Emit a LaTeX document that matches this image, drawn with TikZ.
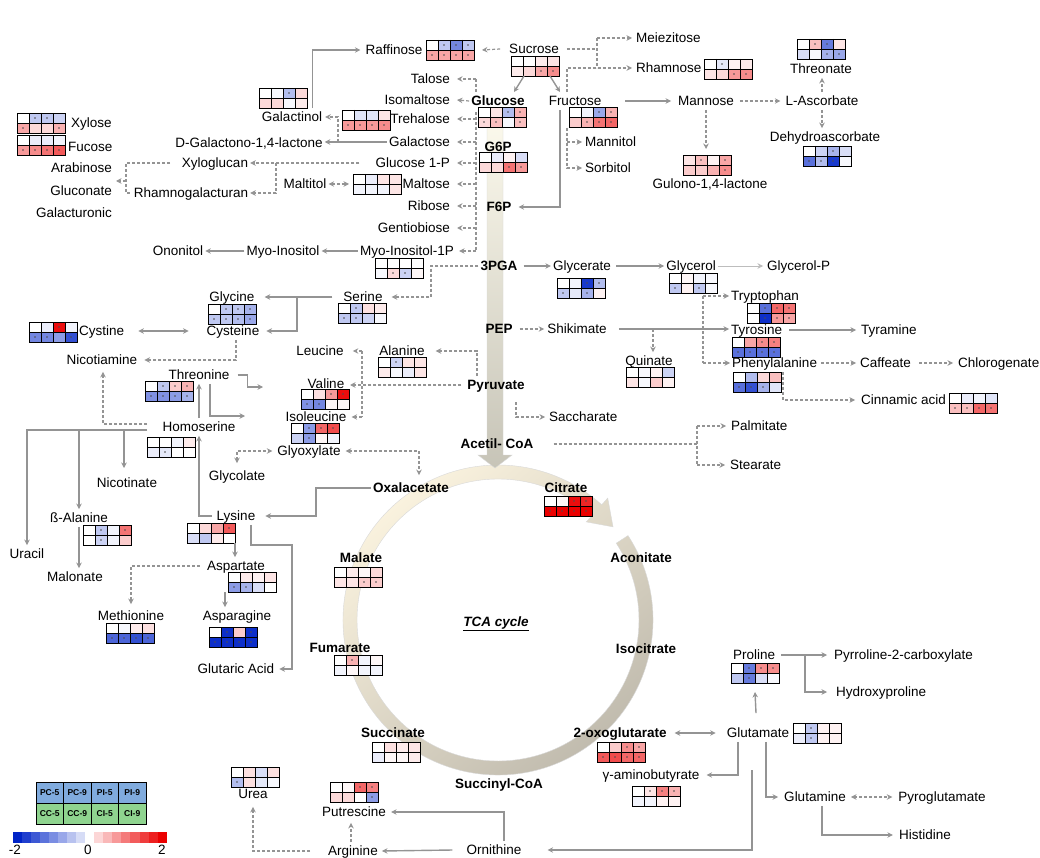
\documentclass[tikz,border=0pt]{standalone}
\usepackage{fontspec}
\setmainfont{Liberation Sans}
\usetikzlibrary{arrows.meta,calc}

\newlength{\du}
\setlength{\du}{1pt}

\definecolor{dialinecolor}{rgb}{0.58,0.58,0.58}
\definecolor{thinlinecolor}{rgb}{0.74,0.74,0.74}
\definecolor{hmblue}{rgb}{0.0,0.14,0.78}
\definecolor{hmred}{rgb}{0.92,0.0,0.0}
\definecolor{legtop}{rgb}{0.50,0.67,0.87}
\definecolor{legbot}{rgb}{0.56,0.83,0.56}
\definecolor{tcalight}{rgb}{0.99,0.96,0.88}
\definecolor{tcadark}{rgb}{0.74,0.72,0.67}
\definecolor{bandtop}{rgb}{0.99,0.98,0.93}
\definecolor{bandbot}{rgb}{0.78,0.77,0.72}
\newcommand{\lblfont}{\fontsize{13.5}{15}\selectfont}

\tikzset{
  lbl/.style={font=\lblfont, inner sep=2pt, text height=11pt, text depth=2.5pt},
  blbl/.style={lbl, font=\lblfont\bfseries},
  ln/.style={draw=dialinecolor, line width=1.4pt},
  arr/.style={ln, ->},
  dsh/.style={ln, line width=1.2pt, dash pattern=on 3pt off 2pt},
  darr/.style={dsh, ->},
  thinarr/.style={draw=thinlinecolor, line width=0.9pt, ->},
  hmbox/.style={anchor=north west, minimum width=48pt, minimum height=20pt, inner sep=0pt, outer sep=0pt},
  hmgrid/.style={draw=black, line width=0.8pt},
  stardot/.style={fill=black!70},
  legcell/.style={draw=black, line width=0.6pt, minimum width=27.5pt, minimum height=21pt, inner sep=0pt,
    font=\fontsize{8.5}{10}\selectfont\bfseries}
}

% heat map: name, top left corner, 8 cells value/star
\newcommand{\hmap}[3]{%
  \node[hmbox] (#1) at (#2) {};
  \foreach \hv/\hs [count=\hi from 0] in {#3}{%
    \pgfmathtruncatemacro\hmc{mod(\hi,4)}%
    \pgfmathtruncatemacro\hmr{div(\hi,4)}%
    \pgfmathtruncatemacro\hmp{abs(\hv)}%
    \ifnum\hv<0 \def\hmh{hmblue}\else\def\hmh{hmred}\fi
    \fill[\hmh!\hmp!white] ($(#1.north west)+(12*\hmc,10*\hmr)$) rectangle ++(12,10);
    \ifnum\hs=1 \fill[stardot] ($(#1.north west)+(12*\hmc+6,10*\hmr+5)$) circle[radius=0.9pt];\fi
  }
  \draw[hmgrid] (#1.north west) rectangle (#1.south east)
    ($(#1.north west)+(0,10)$) -- ($(#1.north east)+(0,10)$)
    \foreach \hx in {12,24,36}{($(#1.north west)+(\hx,0)$) -- ($(#1.south west)+(\hx,0)$)};
}

\begin{document}
\begin{tikzpicture}[x=1\du,y=-1\du,>={Stealth[length=5.5pt,width=5.5pt]}]
\fill[white] (0,0) rectangle (1040,858);
\useasboundingbox (0,0) rectangle (1040,858);

% TCA ring
\begin{scope}[shift={(498,620)},y=1\du]
\shadedraw[top color=tcalight,bottom color=tcadark,shading angle=40,draw=black!15,line width=0.4pt]
  (33:155) arc[start angle=33,end angle=-312,radius=155]
  -- (48:164) -- (39:148) -- (48:132) -- (48:141)
  arc[start angle=-312,end angle=33,radius=141] -- cycle;
\end{scope}

% glycolysis
\shadedraw[top color=bandtop,bottom color=bandbot,draw=black!15,line width=0.4pt]
  (487,112) -- (503,112) -- (503,455) -- (512,455) -- (495,468) -- (478,455) -- (487,455) -- cycle;

% heat maps
\hmap{hm-raf}{426,40}{0/0,-25/1,-55/1,-25/1,35/1,35/1,35/1,35/1}
\hmap{hm-suc}{511,56}{0/0,0/0,8/0,10/0,8/0,15/0,35/1,45/1}
\hmap{hm-gol}{259,88}{0/0,-3/0,-30/1,15/0,15/0,15/0,-3/0,8/0}
\hmap{hm-tre}{342,110}{0/0,-12/0,-12/0,10/0,40/1,40/1,40/1,45/1}
\hmap{hm-glc}{478,107}{0/0,10/0,-30/1,30/1,15/1,25/1,-3/0,25/1}
\hmap{hm-fru}{569,107}{0/0,-5/0,-40/1,30/1,20/0,30/1,55/1,60/1}
\hmap{hm-xyl}{17,113}{0/0,-25/1,-25/1,-20/0,35/1,15/0,15/0,30/1}
\hmap{hm-fuc}{17,135}{0/0,-8/0,-8/0,-5/0,40/1,45/1,55/1,65/1}
\hmap{hm-g6p}{479,152}{0/0,-8/0,5/0,-15/0,15/0,15/0,55/1,40/1}
\hmap{hm-mal}{353,174}{0/0,-8/0,10/0,10/0,-5/0,-5/0,-5/0,10/0}
\hmap{hm-mip}{375,258}{0/0,0/0,0/0,0/0,-3/0,15/1,-20/1,3/0}
\hmap{hm-rha}{704,59}{0/0,-10/1,5/0,8/0,10/0,15/0,40/1,45/1}
\hmap{hm-thn}{797,39}{0/0,25/1,-60/1,10/0,-15/0,-3/0,-35/1,-40/1}
\hmap{hm-gul}{683,155}{10/0,25/1,5/0,35/1,20/0,20/0,30/0,45/1}
\hmap{hm-dha}{803,146}{0/0,-20/0,-35/1,-15/0,-65/1,-30/1,-90/1,-3/0}
\hmap{hm-gla}{557,278}{0/0,-5/0,-90/1,-30/1,-25/1,-10/0,-35/1,5/0}
\hmap{hm-gly}{669,273}{0/0,3/0,-5/0,-3/0,-25/1,5/0,-25/1,-3/0}
\hmap{hm-ser}{338,303}{0/0,-25/1,12/0,8/0,-25/1,-25/1,-20/0,-3/0}
\hmap{hm-gcn}{208,304}{0/0,-25/1,-25/1,-35/1,-25/1,-25/1,-30/1,-40/1}
\hmap{hm-cyt}{29,322}{0/0,-8/0,95/1,-5/0,-55/1,-55/1,-45/0,-80/1}
\hmap{hm-ala}{378,357}{0/0,-20/1,10/0,10/0,8/0,-3/0,-8/0,10/0}
\hmap{hm-thr}{145,381}{0/0,-25/1,20/1,30/1,-50/1,-50/1,-45/1,-35/1}
\hmap{hm-val}{301,389}{0/0,12/0,40/1,95/1,-50/1,-55/1,3/0,3/0}
\hmap{hm-ile}{291,423}{0/0,-45/1,60/1,70/1,-20/0,-45/1,3/0,-5/0}
\hmap{hm-hse}{147,437}{0/0,0/0,-5/0,8/0,-8/0,-10/1,0/0,0/0}
\hmap{hm-trp}{747,303}{0/0,-65/1,60/1,55/1,0/0,-95/1,40/1,35/1}
\hmap{hm-tyr}{732,337}{0/0,35/0,45/1,50/1,-65/1,-65/1,-65/1,-65/1}
\hmap{hm-phe}{733,372}{0/0,-30/0,15/0,25/0,-65/1,-80/1,-35/1,-12/0}
\hmap{hm-qui}{626,367}{0/0,-3/0,5/0,-20/0,10/0,-3/0,20/0,5/0}
\hmap{hm-cin}{949,393}{0/0,-8/0,-5/0,-12/0,25/1,25/1,60/1,55/1}
\hmap{hm-bal}{83,525}{0/0,-25/1,-5/0,55/1,0/0,-20/1,-5/0,20/0}
\hmap{hm-lys}{187,523}{0/0,15/0,35/0,65/1,-15/0,-25/0,8/0,0/0}
\hmap{hm-cit}{544,496}{0/0,3/0,95/1,85/1,100/1,100/1,100/1,100/1}
\hmap{hm-asp}{228,572}{0/0,8/0,5/0,10/0,-45/1,-35/1,-15/0,0/0}
\hmap{hm-mlt}{334,567}{0/0,8/0,3/0,15/0,10/0,10/0,20/1,20/1}
\hmap{hm-met}{106,623}{0/0,-3/0,8/0,12/0,-70/1,-70/1,-80/1,-70/1}
\hmap{hm-asn}{209,627}{0/0,-95/1,20/0,-95/1,-95/1,-95/1,-95/1,-95/1}
\hmap{hm-fum}{334,655}{0/0,30/1,-5/0,3/0,-5/0,3/0,-5/0,-5/0}
\hmap{hm-pro}{731,663}{0/0,-60/1,45/1,45/1,-25/0,-60/1,-15/0,-3/0}
\hmap{hm-glu}{793,723}{0/0,-25/1,5/0,5/0,-8/0,-25/1,5/0,5/0}
\hmap{hm-scn}{372,742}{0/0,12/0,8/0,10/0,-8/0,3/0,3/0,8/0}
\hmap{hm-okg}{597,742}{0/0,20/0,45/1,35/1,65/1,70/1,60/1,60/1}
\hmap{hm-gab}{632,786}{0/0,10/1,50/1,30/1,-5/0,-5/0,5/0,5/0}
\hmap{hm-put}{330,782}{0/0,3/0,60/1,50/1,15/0,15/0,0/0,-45/1}
\hmap{hm-urea}{231,767}{0/0,12/0,-15/0,12/0,-30/1,12/0,-10/0,-3/0}

% sugars
\node[lbl] (raf) at (394,50) {Raffinose};
\node[lbl] (suc) at (534,49) {Sucrose};
\node[lbl,anchor=west] (mei) at (634,38) {Meiezitose};
\node[lbl,anchor=west] (rha) at (634,68) {Rhamnose};
\node[lbl,anchor=east] (tal) at (452,79) {Talose};
\node[lbl,anchor=east] (iso) at (452,100) {Isomaltose};
\node[blbl] (glc) at (498,101) {Glucose};
\node[lbl] (fru) at (575,101) {Fructose};
\node[lbl,anchor=east] (tre) at (452,119) {Trehalose};
\node[lbl,anchor=east] (gal) at (452,142) {Galactose};
\node[blbl] (g6p) at (498,147) {G6P};
\node[lbl,anchor=east] (g1p) at (452,163) {Glucose 1-P};
\node[lbl,anchor=east] (mal) at (452,184) {Maltose};
\node[lbl,anchor=east] (rib) at (452,206) {Ribose};
\node[blbl] (f6p) at (499,207) {F6P};
\node[lbl,anchor=east] (gen) at (452,228) {Gentiobiose};
\node[lbl] (mip) at (407,251) {Myo-Inositol-1P};
\node[lbl,anchor=west] (mtl) at (583,142) {Mannitol};
\node[lbl,anchor=west] (sor) at (583,168) {Sorbitol};
\node[lbl] (man) at (706,101) {Mannose};
\node[lbl] (gul) at (710,184) {Gulono-1,4-lactone};
\node[lbl] (asc) at (822,101) {L-Ascorbate};
\node[lbl] (thn) at (821,69) {Threonate};
\node[lbl] (dha) at (825,137) {Dehydroascorbate};
\node[lbl] (gol) at (292,117) {Galactinol};
\node[lbl] (dgl) at (249,143) {D-Galactono-1,4-lactone};
\node[lbl,anchor=west] (xyl) at (69,123) {Xylose};
\node[lbl,anchor=west] (fuc) at (66,147) {Fucose};
\node[lbl,anchor=east] (ara) at (114,168) {Arabinose};
\node[lbl,anchor=east] (gna) at (114,191) {Gluconate};
\node[lbl,anchor=east] (gcu) at (114,213) {Galacturonic};
\node[lbl] (xgl) at (215,163) {Xyloglucan};
\node[lbl] (rga) at (191,193) {Rhamnogalacturan};
\node[lbl] (mtt) at (305,184) {Maltitol};
\node[lbl] (ono) at (178,251) {Ononitol};
\node[lbl] (myo) at (283,251) {Myo-Inositol};

% glycolysis, amino acids
\node[blbl] (pga) at (499,266) {3PGA};
\node[lbl] (gla) at (582,266) {Glycerate};
\node[lbl] (gly) at (691,266) {Glycerol};
\node[lbl,anchor=west] (glp) at (765,266) {Glycerol-P};
\node[lbl] (ser) at (363,297) {Serine};
\node[lbl] (gcn) at (232,297) {Glycine};
\node[lbl] (cys) at (233,331) {Cysteine};
\node[lbl,anchor=west] (cyt) at (77,331) {Cystine};
\node[lbl] (nic) at (102,360) {Nicotiamine};
\node[blbl] (pep) at (499,329) {PEP};
\node[lbl] (shk) at (577,329) {Shikimate};
\node[lbl,anchor=west] (trp) at (729,296) {Tryptophan};
\node[lbl,anchor=west] (tyr) at (729,330) {Tyrosine};
\node[lbl,anchor=west] (tym) at (859,330) {Tyramine};
\node[lbl,anchor=west] (phe) at (730,363) {Phenylalanine};
\node[lbl,anchor=west] (caf) at (858,363) {Caffeate};
\node[lbl,anchor=west] (chl) at (956,363) {Chlorogenate};
\node[lbl] (qui) at (649,361) {Quinate};
\node[lbl,anchor=west] (cin) at (859,400) {Cinnamic acid};
\node[lbl] (leu) at (320,351) {Leucine};
\node[lbl] (ala) at (402,351) {Alanine};
\node[blbl] (pyr) at (496,385) {Pyruvate};
\node[lbl] (val) at (326,384) {Valine};
\node[lbl] (ile) at (316,417) {Isoleucine};
\node[lbl,anchor=west] (sac) at (547,417) {Saccharate};
\node[lbl] (thr) at (199,375) {Threonine};
\node[lbl] (hse) at (199,427) {Homoserine};
\node[blbl] (acc) at (497,444) {Acetil- CoA};
\node[lbl,anchor=west] (pal) at (729,426) {Palmitate};
\node[lbl,anchor=west] (ste) at (728,465) {Stearate};
\node[lbl] (gox) at (309,451) {Glyoxylate};
\node[lbl] (gco) at (237,476) {Glycolate};
\node[lbl] (nca) at (127,483) {Nicotinate};
\node[lbl] (lys) at (236,516) {Lysine};
\node[lbl] (bal) at (79,518) {ß-Alanine};
\node[lbl] (ura) at (27,554) {Uracil};
\node[lbl] (mlo) at (75,577) {Malonate};
\node[lbl] (asp) at (236,566) {Aspartate};
\node[lbl] (met) at (131,616) {Methionine};
\node[lbl] (asn) at (237,616) {Asparagine};
\node[lbl] (gta) at (236,669) {Glutaric Acid};

% TCA cycle
\node[blbl] (oaa) at (411,488) {Oxalacetate};
\node[blbl] (cit) at (566,488) {Citrate};
\node[blbl] (acn) at (641,558) {Aconitate};
\node[blbl] (mlt) at (361,558) {Malate};
\node[blbl] (fum) at (340,648) {Fumarate};
\node[blbl] (ici) at (646,649) {Isocitrate};
\node[blbl] (scn) at (393,733) {Succinate};
\node[blbl] (okg) at (620,733) {2-oxoglutarate};
\node[blbl] (sca) at (499,784) {Succinyl-CoA};
\node[lbl,font=\lblfont\bfseries\itshape] (tca) at (496,622) {\underline{TCA cycle}};

% glutamate family
\node[lbl] (pro) at (754,655) {Proline};
\node[lbl,anchor=west] (p2c) at (832,655) {Pyrroline-2-carboxylate};
\node[lbl,anchor=west] (hyp) at (834,692) {Hydroxyproline};
\node[lbl] (glu) at (758,733) {Glutamate};
\node[lbl] (gab) at (651,775) {γ-aminobutyrate};
\node[lbl] (gln) at (815,797) {Glutamine};
\node[lbl] (pgl) at (942,797) {Pyroglutamate};
\node[lbl] (his) at (925,835) {Histidine};
\node[lbl] (urea) at (253,794) {Urea};
\node[lbl] (put) at (354,812) {Putrescine};
\node[lbl] (arg) at (353,851) {Arginine};
\node[lbl] (orn) at (494,850) {Ornithine};

% connectors: sugars
\coordinate (trk) at (476,79);
\draw[arr] ([xshift=-12pt]gol.north east) |- ([xshift=-3pt]raf.west);
\draw[darr] ([xshift=-7pt]suc.west) -- ([xshift=8pt]hm-raf.east);
\draw[arr] ([xshift=-11pt]hm-suc.south) -- ([xshift=16pt]glc.north);
\draw[arr] ([xshift=15pt]hm-suc.south) -- ([xshift=-15pt]fru.north);
\draw[dsh] ([xshift=6pt]suc.east) -- ++(30,0) coordinate (sj);
\draw[dsh] (sj |- mei.west) -- (sj |- rha.west);
\draw[darr] (sj |- mei.west) -- ([xshift=-2pt]mei.west);
\draw[darr] ([xshift=-8pt]fru.north) |- ([xshift=-2pt]rha.west);
\draw[dsh] (trk) -- (476,93);
\draw[dsh] (476,112) -- (trk |- mip.east);
\foreach \n in {tal,tre,gal,g1p,mal,rib,gen}{\draw[darr] (trk |- \n.east) -- ([xshift=5pt]\n.east);}
\draw[darr] (trk |- mip.east) -- ([xshift=3pt]mip.east);
\draw[darr] (glc.west) -- ([xshift=5pt]iso.east);
\draw[arr] (gal.west) -- (dgl.east |- gal.west);
\draw[darr] (338,142) |- ([xshift=1pt]gol.east);
\draw[darr] ([xshift=-14pt]g1p.west) -- (xgl.east |- g1p.west);
\draw[darr] (276,163) |- (rga.east);
\draw[dsh] (170,163) -| (126,193) -- (rga.west);
\draw[darr] (126,181) -- (116,181);
\draw[dsh,<->] (mtt.east) -- ([xshift=-4pt]hm-mal.west);
\draw[arr] (mip.west) -- (myo.east);
\draw[arr] (myo.west) -- (ono.east);
\draw[arr] ([xshift=-15pt]fru.south) |- ([xshift=5pt]f6p.east);
\draw[darr] (567,128) |- ([xshift=-1pt]sor.west);
\draw[darr] (567,142) -- ([xshift=-1pt]mtl.west);
\draw[arr] ([xshift=22pt]fru.east) -- ([xshift=-5pt]man.west);
\draw[darr,shorten >=6pt] (man.south) -- (man.south |- hm-gul.north);
\draw[darr] ([xshift=4pt]man.east) -- ([xshift=-3pt]asc.west);
\draw[darr] (asc.north) -- (asc.north |- thn.south);
\draw[darr] (asc.south) -- (asc.south |- dha.north);

% connectors: 3PGA, PEP, pyruvate
\draw[arr] ([xshift=4pt]pga.east) -- (gla.west);
\draw[arr] ([xshift=3pt]gla.east) -- (gly.west);
\draw[thinarr] (gly.east) -- ([xshift=-2pt]glp.west);
\draw[darr] (pga.west) -| (431,297) -- ([xshift=7pt]ser.east);
\draw[arr] ([xshift=-9pt]ser.west) -- ([xshift=8pt]gcn.east);
\draw[arr] (297,297) |- ([xshift=5pt]cys.east);
\draw[ln,<->] ([xshift=12pt]cyt.east) -- ([xshift=-16pt]cys.west);
\draw[darr] ([xshift=3pt]cys.south) |- ([xshift=5pt]nic.east);
\draw[darr] (147,424) -| ([xshift=1pt,yshift=-3pt]nic.south);
\draw[arr] ([xshift=6pt]thr.east) -- ++(10,0) |- (263,387);
\draw[arr] ([xshift=11pt]thr.south) |- (245,416);
\draw[arr] (hse.north) -- (thr.south);
\draw[arr] ([xshift=-3pt]lys.west) -| (hse.south);
\draw[arr] (147,430) -| (ura.north);
\draw[arr] (79,430) -- (bal.north);
\draw[arr] (124,430) -- (124,468);
\draw[arr] (bal.south) -- (mlo.north -| bal.south);
\draw[dsh,<->] ([yshift=4pt]gco.north) |- ([xshift=-3pt]gox.west);
\draw[dsh,<->] ([xshift=3pt]gox.east) -| ([xshift=8pt,yshift=4pt]oaa.north);
\draw[arr] (oaa.west) -- (316,488) |- ([xshift=8pt]lys.east);
\draw[arr] (hm-lys.south east) -- (hm-lys.south east |- asp.north);
\draw[arr] ([xshift=15pt]lys.south) |- (292,545) |- ([xshift=3pt]gta.east);
\draw[darr] ([xshift=-5pt]asp.west) -| ([yshift=3pt]met.north);
\draw[arr] ([xshift=-3pt]hm-asp.south west) -- ([xshift=-12pt]asn.north);
\draw[darr] ([xshift=-19pt]pyr.north) |- ([xshift=9pt]ala.east);
\draw[darr] ([xshift=-4pt]pyr.west) -- (350,385);
\draw[dsh] (362,351) -- (362,417);
\draw[darr] (362,351) -- ([xshift=7pt]leu.east);
\draw[darr] (362,417) -- ([xshift=3pt]ile.east);
\draw[darr] (516,402) |- ([xshift=-2pt]sac.west);
\draw[darr] ([xshift=5pt]pep.east) -- ([xshift=-1pt]shk.west);
\draw[arr] ([xshift=10pt]shk.east) -- (tyr.west |- shk.east);
\draw[darr] (653,329) -- ([xshift=4pt]qui.north);
\draw[dsh] (703,296) -- (703,363);
\draw[darr] (703,296) -- (trp.west);
\draw[darr] (703,363) -- (phe.west);
\draw[arr] ([xshift=5pt]tyr.east) -- ([xshift=-3pt]tym.west);
\draw[darr] ([xshift=2pt]phe.east) -- ([xshift=-2pt]caf.west);
\draw[darr] ([xshift=6pt]caf.east) -- ([xshift=-3pt]chl.west);
\draw[darr] ([xshift=2pt]hm-phe.north east) |- ([xshift=-4pt]cin.west);
\draw[dsh] ([xshift=18pt]acc.east) -- (697,444);
\draw[dsh] (697,426) -- (697,465);
\draw[darr] (697,426) -- ([xshift=-3pt]pal.west);
\draw[darr] (697,465) -- ([xshift=-3pt]ste.west);

% connectors: glutamate, urea cycle
\draw[ln,<->] ([xshift=6pt]okg.east) -- ([xshift=-9pt]glu.west);
\draw[arr] ([xshift=-20pt]glu.south) |- ([xshift=5pt]gab.east);
\draw[arr] (752,770) |- ([xshift=24pt]orn.east);
\draw[arr] ([xshift=-2pt,yshift=11pt]glu.north) -- ([yshift=-9pt]hm-pro.south);
\draw[arr] ([xshift=4pt]pro.east) -- ([xshift=-5pt]p2c.west);
\draw[arr] (805,655) |- ([xshift=-7pt]hyp.west);
\draw[arr] ([xshift=8pt]glu.south) |- ([xshift=-4pt]gln.west);
\draw[dsh,<->] ([xshift=3pt]gln.east) -- ([xshift=-4pt]pgl.west);
\draw[arr] ([xshift=7pt]gln.south) |- ([xshift=-4pt]his.west);
\draw[arr] ([xshift=-12pt]orn.west) -- ([xshift=2pt]arg.east);
\draw[arr] ([xshift=10pt]orn.north) |- ([xshift=3pt]put.east);
\draw[darr] ([xshift=-2pt]arg.north) -- ([xshift=-3pt,yshift=-2pt]put.south);
\draw[darr] ([xshift=-16pt]arg.west) -| ([yshift=-4pt]urea.south);

% legend
\foreach \t [count=\i from 0] in {PC-5,PC-9,PI-5,PI-9}
  \node[legcell,fill=legtop] (lt\i) at ({49.75+27.5*\i},792.5) {\t};
\foreach \t [count=\i from 0] in {CC-5,CC-9,CI-5,CI-9}
  \node[legcell,fill=legbot] (lb\i) at ({49.75+27.5*\i},813.5) {\t};
\foreach \k in {0,...,7}{
  \pgfmathtruncatemacro\bp{100-12*\k}
  \fill[hmblue!\bp!white] ({13+9*\k},832) rectangle ++(9,11);
  \pgfmathtruncatemacro\rp{16+12*\k}
  \fill[hmred!\rp!white] ({94+9.1*\k},832) rectangle ++(9.1,11);
}
\node[lbl] (cb-lo) at (15,850) {-2};
\node[lbl] (cb-mid) at (88,850) {0};
\node[lbl] (cb-hi) at (162,850) {2};
\end{tikzpicture}
\end{document}
